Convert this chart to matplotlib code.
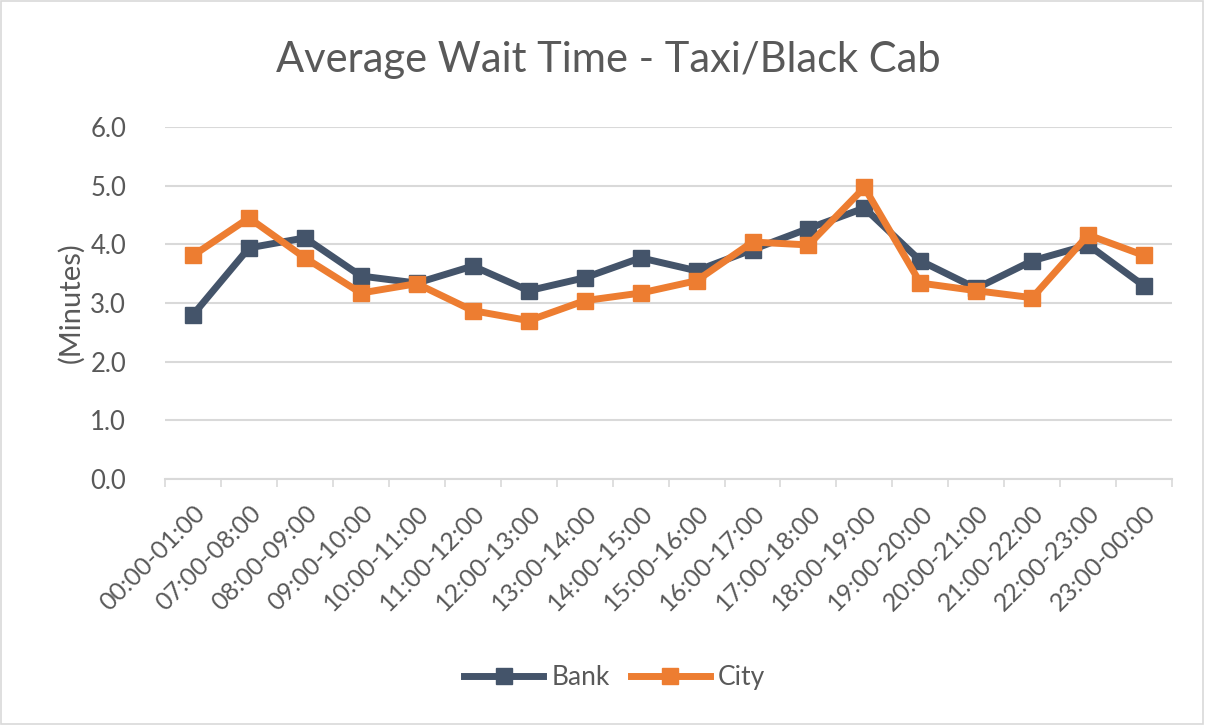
import numpy as np
import matplotlib
matplotlib.use('Agg')
import matplotlib.pyplot as plt
from matplotlib.patches import Rectangle

plt.rcParams['font.family'] = ['Lato', 'DejaVu Sans']

hours = ['00:00-01:00', '07:00-08:00', '08:00-09:00', '09:00-10:00', '10:00-11:00',
         '11:00-12:00', '12:00-13:00', '13:00-14:00', '14:00-15:00', '15:00-16:00',
         '16:00-17:00', '17:00-18:00', '18:00-19:00', '19:00-20:00', '20:00-21:00',
         '21:00-22:00', '22:00-23:00', '23:00-00:00']
bank = [2.80, 3.94, 4.11, 3.46, 3.34, 3.63, 3.21, 3.43, 3.77, 3.55,
        3.91, 4.27, 4.62, 3.72, 3.25, 3.72, 3.99, 3.29]
city = [3.81, 4.45, 3.77, 3.17, 3.33, 2.87, 2.70, 3.04, 3.17, 3.38,
        4.04, 3.99, 4.97, 3.34, 3.21, 3.09, 4.16, 3.81]

txt = '#595959'
fig = plt.figure(figsize=(12.05, 7.25), dpi=100)
fig.patches.append(Rectangle((0.001, 0.002), 0.997, 0.996, transform=fig.transFigure,
                             fill=False, edgecolor='#D9D9D9', lw=1.2))
ax = fig.add_axes([0.137, 0.3393, 0.8357, 0.4855])

x = np.arange(len(hours))
ax.plot(x, bank, color='#44546A', lw=5, marker='s', ms=12, label='Bank', zorder=3)
ax.plot(x, city, color='#ED7D31', lw=5, marker='s', ms=12, label='City', zorder=4)

ax.set_xlim(-0.5, len(hours) - 0.5)
ax.set_ylim(0, 6)
ax.set_yticks(np.arange(0, 6.1, 1.0))
ax.set_yticklabels(['%.1f' % v for v in np.arange(0, 6.1, 1.0)])
ax.yaxis.grid(True, color='#D9D9D9', lw=1.5)
ax.set_axisbelow(True)
ax.set_xticks(x)
ax.set_xticklabels(hours, rotation=45, ha='right', rotation_mode='anchor')
ax.set_xticks(np.arange(-0.5, len(hours), 1.0), minor=True)
ax.tick_params(axis='x', which='major', length=0, pad=16, labelsize=18, labelcolor=txt)
ax.tick_params(axis='x', which='minor', length=6, color='#D9D9D9', width=1.2)
ax.tick_params(axis='y', length=0, pad=28, labelsize=18.5, labelcolor=txt)
for s in ['top', 'right', 'left']:
    ax.spines[s].set_visible(False)
ax.spines['bottom'].set_color('#D9D9D9')
ax.spines['bottom'].set_linewidth(1.5)

ax.set_ylabel('(Minutes)', fontsize=21, color=txt, labelpad=4)
fig.text(0.505, 0.917, 'Average Wait Time - Taxi/Black Cab', ha='center', va='center',
         fontsize=30, color=txt)
fig.legend(loc='center', bbox_to_anchor=(0.51, 0.065), ncol=2, frameon=False,
           fontsize=19, labelcolor=txt, handlelength=3.0, columnspacing=0.8,
           handletextpad=0.3)

fig.savefig('out.png', dpi=100)
